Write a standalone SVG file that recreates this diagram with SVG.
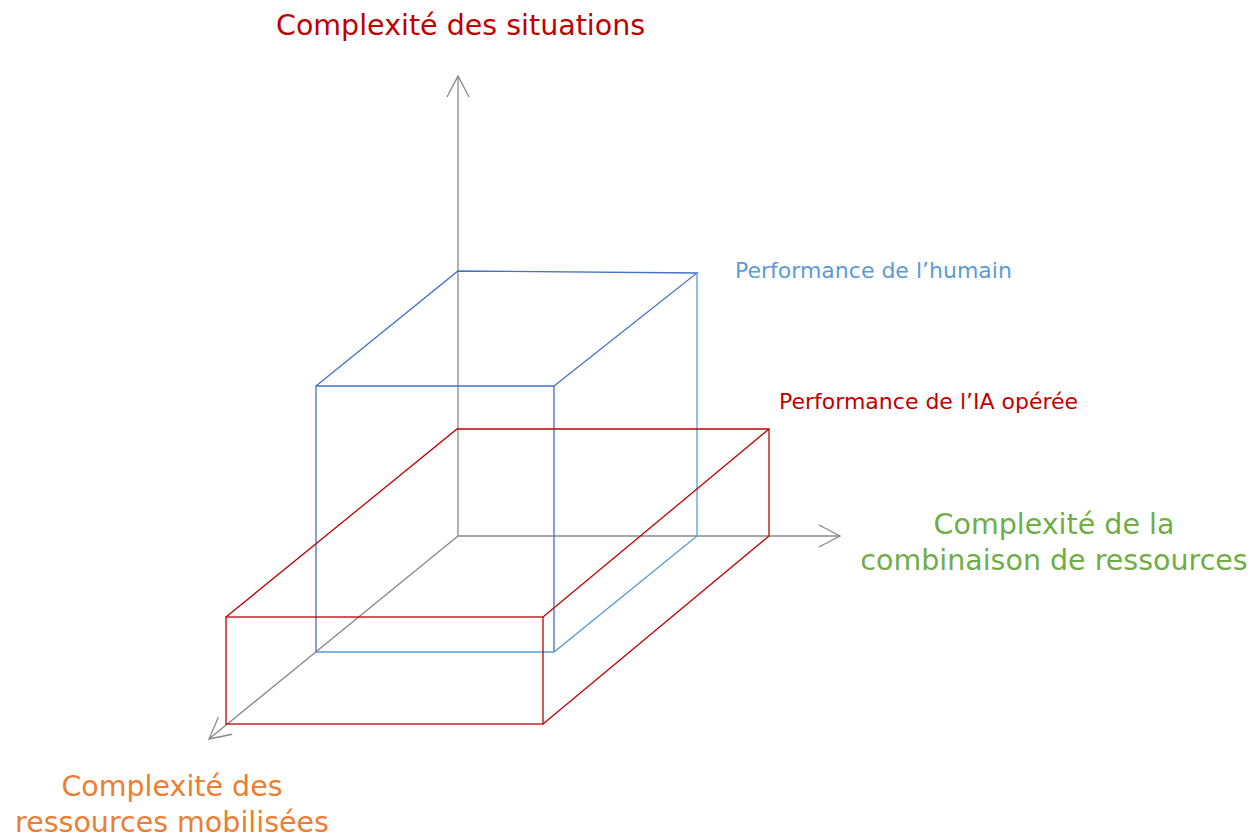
<svg xmlns="http://www.w3.org/2000/svg" width="1252" height="838" viewBox="0 0 1252 838">
<style>
.axis{stroke:#888888;stroke-width:1.3;fill:none}
.blue{stroke:#4472C4;stroke-width:1.3;fill:none}
.blue2{stroke:#5B9BD5;stroke-width:1.3;fill:none}
.red{stroke:#C00000;stroke-width:1.3;fill:none}
text{font-family:"DejaVu Sans","Liberation Sans",sans-serif}
.big{font-size:28.5px}
.small{font-size:22px}
</style>
<defs>
<marker id="arr" markerUnits="userSpaceOnUse" markerWidth="40" markerHeight="40" refX="0" refY="0" orient="auto" viewBox="-30 -20 40 40" overflow="visible">
<path d="M-21,-11 L0,0 L-21,11" stroke="#888888" stroke-width="1.3" fill="none"/>
</marker>
</defs>
<rect width="1252" height="838" fill="#ffffff"/>
<g id="connectors">
<line class="axis" x1="458" y1="536" x2="458" y2="76" marker-end="url(#arr)"/>
<line class="axis" x1="458" y1="536" x2="840" y2="536" marker-end="url(#arr)"/>
<line class="axis" x1="458" y1="536" x2="209" y2="739" marker-end="url(#arr)"/>
</g>
<g id="human-cube">
<polyline class="blue" points="316,652 316,386 554,386 554,652"/>
<polyline class="blue" points="316,386 458,271 697,273 554,386"/>
<line class="blue2" x1="697" y1="273" x2="697" y2="536"/>
<polyline class="blue2" points="316,652 554,652 697,536"/>
</g>
<g id="ia-box">
<rect class="red" x="226" y="617" width="317" height="107"/>
<polyline class="red" points="226,617 457,429 769,429 769,536 543,724"/>
<line class="red" x1="769" y1="429" x2="543" y2="617"/>
</g>
<g id="label-situations">
<text class="big" x="276" y="35" fill="#C00000">Complexité des situations</text>
</g>
<g id="label-humain">
<text class="small" x="735" y="278" fill="#5B9BD5">Performance de l’humain</text>
</g>
<g id="label-ia">
<text class="small" x="779" y="409" fill="#C00000">Performance de l’IA opérée</text>
</g>
<g id="label-combinaison">
<text class="big" text-anchor="middle" fill="#70AD47"><tspan x="1054" y="534">Complexité de la</tspan><tspan x="1054" y="570">combinaison de ressources</tspan></text>
</g>
<g id="label-ressources">
<text class="big" text-anchor="middle" fill="#ED7D31"><tspan x="172" y="796">Complexité des</tspan><tspan x="172" y="832">ressources mobilisées</tspan></text>
</g>
</svg>
